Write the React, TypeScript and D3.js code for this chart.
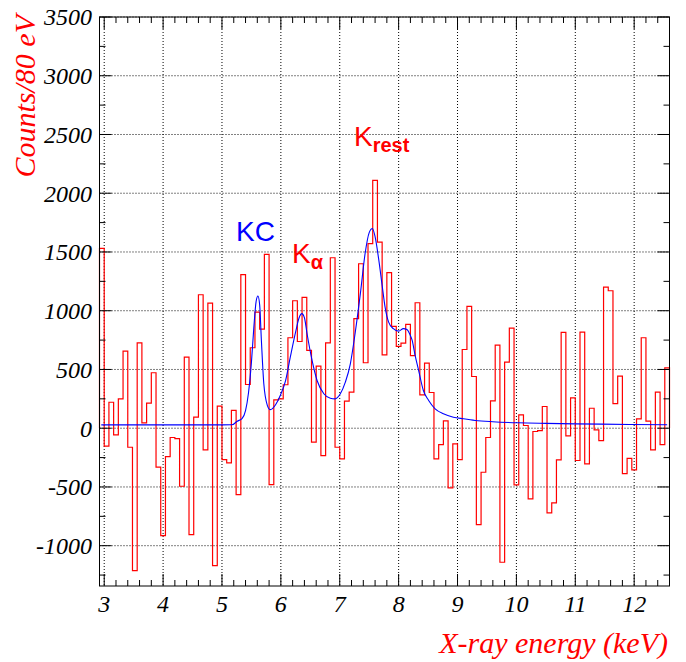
import React, { useEffect, useRef } from "react";
import * as d3 from "d3";

// histogram: 80 eV bins starting at 2.92 keV
const binStart = 2.92;
const binWidth = 0.08;
const counts = [
  1530, -153, 221, -56, 250, 656, -162, -1212, 727, 46,
  213, 472, -332, -914, -241, -79, -88, -494, 605, -905,
  94, 1136, -184, 1065, -1170, 188, -267, -295, 151, -565,
  1307, 372, 685, 988, 843, 1480, -480, 242, 250, 370,
  770, 1085, 738, 1113, 662, -119, 528, -233, 727, 1451,
  -162, -261, 230, 307, 932, 1400, 557, 1571, 2110, 1584,
  625, 1324, 866, 696, 724, 883, 617, 1068, 284, 554,
  304, -261, -139, 63, -508, -133, -267, 670, 1037, 440,
  -820, -375, -79, 233, 707, -1141, 562, 852, -482, 114,
  23, -601, -28, -20, 185, -721, -636, -270, 815, -65,
  258, -275, 818, -303, 170, -14, -105, 1201, 1170, 210,
  443, -386, -256, -354, 80, 770, 60, -184, 307, -139,
  514,
];

// fit curve
const fitX = [
  2.95, 4.0, 5.0, 5.17, 5.26, 5.34, 5.4, 5.45, 5.5, 5.54, 5.58, 5.61, 5.64,
  5.67, 5.71, 5.77, 5.82, 5.91, 5.99, 6.08, 6.16, 6.25, 6.31, 6.355, 6.4,
  6.445, 6.53, 6.615, 6.73, 6.84, 6.92, 7.01, 7.095, 7.18, 7.26, 7.35, 7.43,
  7.5, 7.555, 7.6, 7.66, 7.72, 7.77, 7.83, 7.91, 8.0, 8.08, 8.14, 8.19, 8.23,
  8.28, 8.34, 8.42, 8.51, 8.62, 8.76, 8.93, 9.1, 9.3, 9.6, 10.03, 10.5, 11.0,
  11.93, 12.56,
];
const fitY = [
  28, 28, 28, 29, 60, 82, 150, 300, 560, 850, 1080, 1125, 1050,
  740, 380, 195, 158, 200, 279, 406, 605, 818, 940, 975, 940,
  804, 577, 406, 293, 255, 250, 293, 392, 548, 804, 1145, 1485,
  1665, 1700, 1630, 1443, 1215, 1031, 903, 847, 826, 848, 840, 800, 747,
  619, 491, 321, 236, 165, 123, 94, 80, 66, 55, 46, 41, 37,
  32, 29,
];

const xTicks = [3, 4, 5, 6, 7, 8, 9, 10, 11, 12];
const yTicks = [-1000, -500, 0, 500, 1000, 1500, 2000, 2500, 3000, 3500];

const W = 686;
const H = 662;
const L = 99.5;
const R = 669.5;
const T = 17;
const B = 586;

export default function App() {
  const svgRef = useRef<SVGSVGElement>(null);

  useEffect(() => {
    document.body.style.margin = "0";
    const svg = d3.select(svgRef.current);
    svg.selectAll("*").remove();

    const xMax = binStart + binWidth * counts.length;
    const x = d3.scaleLinear().domain([binStart, xMax]).range([L, R]);
    const y = d3.scaleLinear().domain([-1343, 3500]).range([B, T]);

    // grid
    const grid = svg.append("g").attr("stroke", "black").attr("stroke-dasharray", "1,2");
    grid.selectAll(".gx").data(xTicks).join("line")
      .attr("x1", (d) => x(d)).attr("x2", (d) => x(d))
      .attr("y1", T).attr("y2", B);
    grid.selectAll(".gy").data(yTicks).join("line")
      .attr("x1", L).attr("x2", R)
      .attr("y1", (d) => y(d)).attr("y2", (d) => y(d));

    // histogram outline
    const pts: [number, number][] = [[binStart, 0]];
    counts.forEach((c, i) => pts.push([binStart + i * binWidth, c]));
    pts.push([xMax, counts[counts.length - 1]]);
    pts.push([xMax, 0]);
    const step = d3.line<[number, number]>()
      .x((d) => x(d[0])).y((d) => y(d[1]))
      .curve(d3.curveStepAfter);
    svg.append("path").attr("d", step(pts)!)
      .attr("fill", "none").attr("stroke", "#ff0000").attr("stroke-width", 1.2);

    // fit
    const fit = d3.line<number>()
      .x((d) => x(d)).y((_, i) => y(fitY[i]))
      .curve(d3.curveMonotoneX);
    svg.append("path").attr("d", fit(fitX)!)
      .attr("fill", "none").attr("stroke", "#0000ff").attr("stroke-width", 1.1);

    // frame
    svg.append("rect").attr("x", L).attr("y", T).attr("width", R - L).attr("height", B - T)
      .attr("fill", "none").attr("stroke", "black").attr("stroke-width", 1);

    // ticks
    const xMinor = d3.range(15, 63).map((k) => k / 5).filter((v) => v > binStart && v < xMax);
    const yMinor = d3.range(-5, 15).map((k) => k * 250);
    const tk = svg.append("g").attr("stroke", "black").attr("stroke-width", 1);
    xMinor.forEach((v) => {
      const len = Math.abs(v - Math.round(v)) < 1e-6 ? 12 : 6;
      tk.append("line").attr("x1", x(v)).attr("x2", x(v)).attr("y1", B).attr("y2", B - len);
      tk.append("line").attr("x1", x(v)).attr("x2", x(v)).attr("y1", T).attr("y2", T + len);
    });
    yMinor.forEach((v) => {
      const len = v % 500 === 0 ? 12 : 6;
      tk.append("line").attr("x1", L).attr("x2", L + len).attr("y1", y(v)).attr("y2", y(v));
      tk.append("line").attr("x1", R).attr("x2", R - len).attr("y1", y(v)).attr("y2", y(v));
    });

    // tick labels
    const serif = "'Liberation Serif', 'Times New Roman', serif";
    svg.append("g").selectAll("text").data(xTicks).join("text")
      .attr("x", (d) => x(d)).attr("y", 612)
      .attr("text-anchor", "middle")
      .attr("font-family", serif).attr("font-style", "italic").attr("font-size", 24)
      .text((d) => d);
    svg.append("g").selectAll("text").data(yTicks).join("text")
      .attr("x", 92).attr("y", (d) => y(d)).attr("dy", "0.35em")
      .attr("text-anchor", "end")
      .attr("font-family", serif).attr("font-style", "italic").attr("font-size", 24)
      .text((d) => d);

    // axis titles
    svg.append("text")
      .attr("transform", "translate(35,15) rotate(-90)")
      .attr("text-anchor", "end")
      .attr("font-family", serif).attr("font-style", "italic").attr("font-size", 30)
      .attr("fill", "#ff0000")
      .text("Counts/80 eV");
    svg.append("text")
      .attr("x", 668).attr("y", 653)
      .attr("text-anchor", "end")
      .attr("font-family", serif).attr("font-style", "italic").attr("font-size", 30)
      .attr("fill", "#ff0000")
      .text("X-ray energy (keV)");

    // peak labels
    const sans = "'Liberation Sans', Arial, sans-serif";
    svg.append("text").attr("x", 236).attr("y", 241)
      .attr("font-family", sans).attr("font-size", 28).attr("fill", "#0000ff").text("KC");
    const ka = svg.append("text").attr("x", 292).attr("y", 263)
      .attr("font-family", sans).attr("font-size", 28).attr("fill", "#ff0000");
    ka.append("tspan").text("K");
    ka.append("tspan").attr("dy", 6).attr("font-size", 20).attr("font-weight", "bold").text("α");
    const kr = svg.append("text").attr("x", 354).attr("y", 146)
      .attr("font-family", sans).attr("font-size", 28).attr("fill", "#ff0000");
    kr.append("tspan").text("K");
    kr.append("tspan").attr("dy", 6).attr("font-size", 20).attr("font-weight", "bold").text("rest");
  }, []);

  return <svg ref={svgRef} width={W} height={H} style={{ display: "block", background: "white" }} />;
}
